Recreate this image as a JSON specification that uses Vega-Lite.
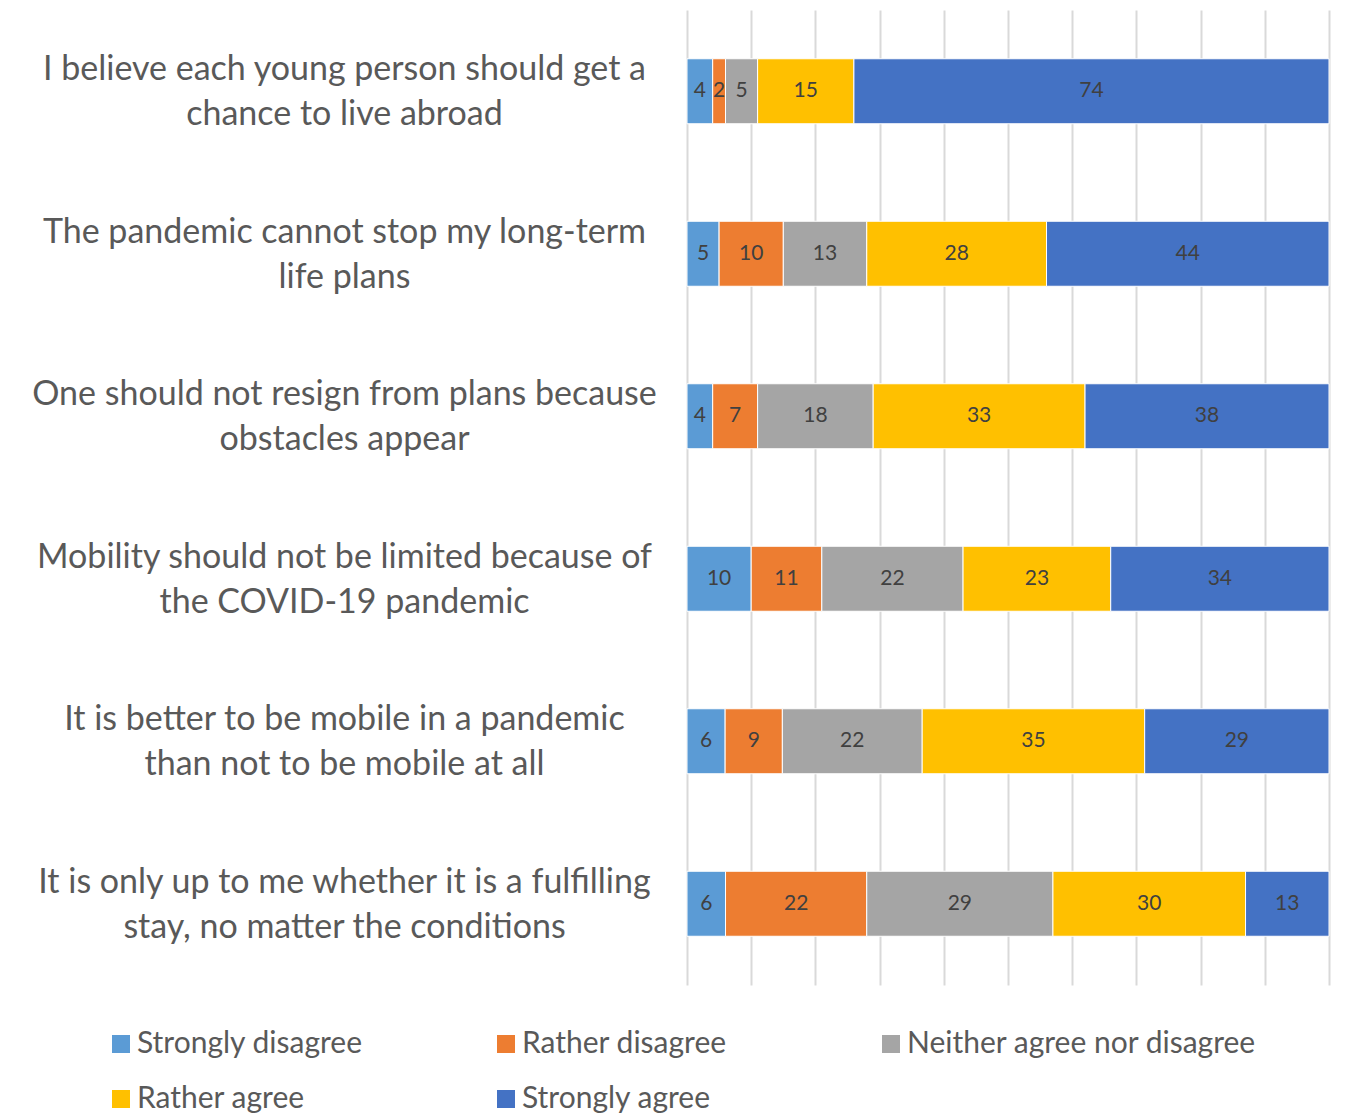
{
  "$schema": "https://vega.github.io/schema/vega-lite/v6.json",
  "autosize": {"type": "none"},
  "padding": {"left": 687, "top": 10, "right": 25, "bottom": 128},
  "width": 642,
  "height": 975,
  "config": {
    "font": "Lato",
    "view": {"stroke": null}
  },
  "data": {
    "values": [
      {"statement": "I believe each young person should get a|chance to live abroad", "response": "Strongly disagree", "rank": 1, "value": 4},
      {"statement": "I believe each young person should get a|chance to live abroad", "response": "Rather disagree", "rank": 2, "value": 2},
      {"statement": "I believe each young person should get a|chance to live abroad", "response": "Neither agree nor disagree", "rank": 3, "value": 5},
      {"statement": "I believe each young person should get a|chance to live abroad", "response": "Rather agree", "rank": 4, "value": 15},
      {"statement": "I believe each young person should get a|chance to live abroad", "response": "Strongly agree", "rank": 5, "value": 74},
      {"statement": "The pandemic cannot stop my long-term|life plans", "response": "Strongly disagree", "rank": 1, "value": 5},
      {"statement": "The pandemic cannot stop my long-term|life plans", "response": "Rather disagree", "rank": 2, "value": 10},
      {"statement": "The pandemic cannot stop my long-term|life plans", "response": "Neither agree nor disagree", "rank": 3, "value": 13},
      {"statement": "The pandemic cannot stop my long-term|life plans", "response": "Rather agree", "rank": 4, "value": 28},
      {"statement": "The pandemic cannot stop my long-term|life plans", "response": "Strongly agree", "rank": 5, "value": 44},
      {"statement": "One should not resign from plans because|obstacles appear", "response": "Strongly disagree", "rank": 1, "value": 4},
      {"statement": "One should not resign from plans because|obstacles appear", "response": "Rather disagree", "rank": 2, "value": 7},
      {"statement": "One should not resign from plans because|obstacles appear", "response": "Neither agree nor disagree", "rank": 3, "value": 18},
      {"statement": "One should not resign from plans because|obstacles appear", "response": "Rather agree", "rank": 4, "value": 33},
      {"statement": "One should not resign from plans because|obstacles appear", "response": "Strongly agree", "rank": 5, "value": 38},
      {"statement": "Mobility should not be limited because of|the COVID-19 pandemic", "response": "Strongly disagree", "rank": 1, "value": 10},
      {"statement": "Mobility should not be limited because of|the COVID-19 pandemic", "response": "Rather disagree", "rank": 2, "value": 11},
      {"statement": "Mobility should not be limited because of|the COVID-19 pandemic", "response": "Neither agree nor disagree", "rank": 3, "value": 22},
      {"statement": "Mobility should not be limited because of|the COVID-19 pandemic", "response": "Rather agree", "rank": 4, "value": 23},
      {"statement": "Mobility should not be limited because of|the COVID-19 pandemic", "response": "Strongly agree", "rank": 5, "value": 34},
      {"statement": "It is better to be mobile in a pandemic|than not to be mobile at all", "response": "Strongly disagree", "rank": 1, "value": 6},
      {"statement": "It is better to be mobile in a pandemic|than not to be mobile at all", "response": "Rather disagree", "rank": 2, "value": 9},
      {"statement": "It is better to be mobile in a pandemic|than not to be mobile at all", "response": "Neither agree nor disagree", "rank": 3, "value": 22},
      {"statement": "It is better to be mobile in a pandemic|than not to be mobile at all", "response": "Rather agree", "rank": 4, "value": 35},
      {"statement": "It is better to be mobile in a pandemic|than not to be mobile at all", "response": "Strongly agree", "rank": 5, "value": 29},
      {"statement": "It is only up to me whether it is a fulfilling|stay, no matter the conditions", "response": "Strongly disagree", "rank": 1, "value": 6},
      {"statement": "It is only up to me whether it is a fulfilling|stay, no matter the conditions", "response": "Rather disagree", "rank": 2, "value": 22},
      {"statement": "It is only up to me whether it is a fulfilling|stay, no matter the conditions", "response": "Neither agree nor disagree", "rank": 3, "value": 29},
      {"statement": "It is only up to me whether it is a fulfilling|stay, no matter the conditions", "response": "Rather agree", "rank": 4, "value": 30},
      {"statement": "It is only up to me whether it is a fulfilling|stay, no matter the conditions", "response": "Strongly agree", "rank": 5, "value": 13}
    ]
  },
  "encoding": {
    "y": {
      "field": "statement",
      "type": "nominal",
      "sort": null,
      "title": null,
      "scale": {"paddingInner": 0.6, "paddingOuter": 0.3},
      "axis": {
        "domain": false,
        "ticks": false,
        "labelExpr": "split(datum.label, '|')",
        "labelAlign": "center",
        "labelBaseline": "middle",
        "labelPadding": 343,
        "labelOffset": -21,
        "labelLimit": 0,
        "labelFontSize": 34,
        "labelLineHeight": 45,
        "labelColor": "#595959",
        "labelFont": "Lato"
      }
    },
    "x": {
      "field": "value",
      "type": "quantitative",
      "stack": "normalize",
      "title": null,
      "scale": {"domain": [0, 1], "nice": false},
      "axis": {
        "values": [0, 0.1, 0.2, 0.3, 0.4, 0.5, 0.6, 0.7, 0.8, 0.9, 1],
        "labels": false,
        "ticks": false,
        "domain": false,
        "grid": true,
        "gridColor": "#d9d9d9",
        "gridWidth": 2
      }
    },
    "order": {"field": "rank", "type": "quantitative"}
  },
  "layer": [
    {
      "mark": {"type": "bar", "stroke": "white", "strokeWidth": 1},
      "encoding": {
        "color": {
          "field": "response",
          "type": "nominal",
          "title": null,
          "scale": {
            "domain": ["Strongly disagree", "Rather disagree", "Neither agree nor disagree", "Rather agree", "Strongly agree"],
            "range": ["#5B9BD5", "#ED7D31", "#A5A5A5", "#FFC000", "#4472C4"]
          },
          "legend": {
            "orient": "none",
            "legendX": -581,
            "legendY": 1019,
            "direction": "horizontal",
            "columns": 3,
            "gridAlign": "all",
            "columnPadding": 4,
            "rowPadding": 25,
            "symbolType": "square",
            "symbolSize": 324,
            "symbolStrokeWidth": 0,
            "labelFontSize": 30,
            "labelColor": "#595959",
            "labelFont": "Lato",
            "labelOffset": 1,
            "labelLimit": 0
          }
        }
      }
    },
    {
      "mark": {"type": "text", "fontSize": 21, "color": "#404040", "font": "Lato"},
      "encoding": {
        "x": {"field": "value", "type": "quantitative", "stack": "normalize", "bandPosition": 0.5},
        "text": {"field": "value", "type": "quantitative"}
      }
    }
  ]
}
